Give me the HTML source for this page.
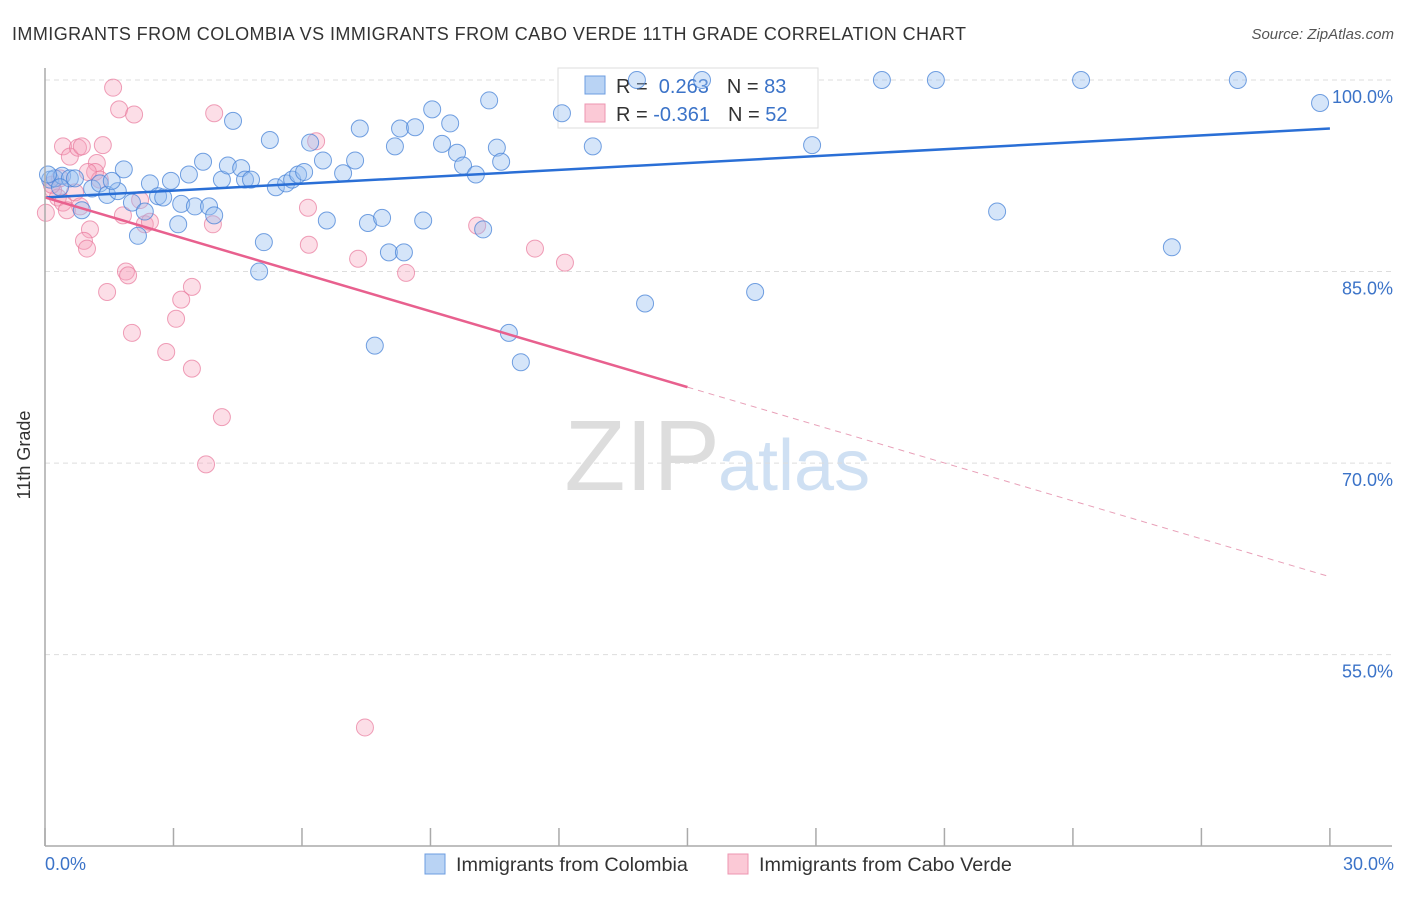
<!DOCTYPE html>
<html><head><meta charset="utf-8"><style>
body{margin:0;background:#fff;font-family:"Liberation Sans",sans-serif}
svg text{font-family:"Liberation Sans",sans-serif}
</style></head><body>
<svg id="c" width="1406" height="892" xmlns="http://www.w3.org/2000/svg">
<text x="12" y="40" font-size="18" fill="#333" textLength="954">IMMIGRANTS FROM COLOMBIA VS IMMIGRANTS FROM CABO VERDE 11TH GRADE CORRELATION CHART</text>
<text x="1394" y="39" font-size="15" fill="#555" text-anchor="end" font-style="italic">Source: ZipAtlas.com</text>
<text x="720" y="490" font-size="100" fill="#ddd" text-anchor="end" font-family="Liberation Serif">ZIP</text>
<text x="718" y="490" font-size="72" fill="#cfe0f3">atlas</text>
<g id="grid"></g>
<g>
<rect x="558" y="68" width="260" height="60" fill="#fff" stroke="#ddd"/>
<rect x="585" y="76" width="20" height="18" fill="#b9d3f4" stroke="#6c9de0"/>
<rect x="585" y="104" width="20" height="18" fill="#fbc9d6" stroke="#ee95b0"/>
<text x="616" y="93" font-size="20" fill="#333">R = <tspan fill="#3b73c8">&#160;0.263</tspan><tspan dx="18">N = </tspan><tspan fill="#3b73c8">83</tspan></text>
<text x="616" y="121" font-size="20" fill="#333">R = <tspan fill="#3b73c8">-0.361</tspan><tspan dx="18">N = </tspan><tspan fill="#3b73c8">52</tspan></text>
</g>
<g id="pts"></g><g id="lines"></g>
<line x1="45" y1="68" x2="45" y2="846" stroke="#aaa" stroke-width="1.5"/>
<line x1="45" y1="846" x2="1392" y2="846" stroke="#aaa" stroke-width="1.5"/>
<text x="30" y="455" font-size="18" fill="#333" text-anchor="middle" transform="rotate(-90 30 455)">11th Grade</text>
<text x="45" y="870" font-size="18" fill="#3b73c8">0.0%</text>
<text x="1394" y="870" font-size="18" fill="#3b73c8" text-anchor="end">30.0%</text>
<g>
<rect x="425" y="854" width="20" height="20" fill="#b9d3f4" stroke="#6c9de0"/>
<text x="456" y="871" font-size="19.8" fill="#333">Immigrants from Colombia</text>
<rect x="728" y="854" width="20" height="20" fill="#fbc9d6" stroke="#ee95b0"/>
<text x="759" y="871" font-size="19.8" fill="#333">Immigrants from Cabo Verde</text>
</g>
</svg>
<script>
const yTicks=[100,85,70,55];
const yTickLabels=["100.0%","85.0%","70.0%","55.0%"];
const xTicks=[0,3,6,9,12,15,18,21,24,27,30];
const colX=[0.12,0.23,0.40,0.58,0.70,0.35,1.10,1.28,1.45,1.70,0.86,1.84,1.56,2.03,2.17,2.33,2.45,2.64,2.76,2.94,3.11,3.18,3.36,3.50,3.69,3.83,3.95,4.13,4.27,4.39,4.58,4.67,4.81,5.00,5.11,5.25,5.39,5.63,5.77,5.91,6.05,6.19,6.49,6.58,6.96,7.24,7.35,7.54,7.70,7.87,8.03,8.17,8.29,8.38,8.64,8.83,9.04,9.27,9.46,9.62,9.76,10.06,10.23,10.37,10.55,10.65,10.83,11.11,12.07,12.79,13.82,14.01,15.34,16.58,17.91,19.54,20.80,22.23,24.19,26.31,27.85,29.77,0.07];
const colY=[92.2,92.3,92.5,92.3,92.3,91.6,91.5,91.9,91.0,91.3,89.8,93.0,92.1,90.4,87.8,89.7,91.9,90.9,90.8,92.1,88.7,90.3,92.6,90.1,93.6,90.1,89.4,92.2,93.3,96.8,93.1,92.2,92.2,85.0,87.3,95.3,91.6,91.9,92.2,92.6,92.8,95.1,93.7,89.0,92.7,93.7,96.2,88.8,79.2,89.2,86.5,94.8,96.2,86.5,96.3,89.0,97.7,95.0,96.6,94.3,93.3,92.6,88.3,98.4,94.7,93.6,80.2,77.9,97.4,94.8,100,82.5,100,83.4,94.9,100,100,89.7,100,86.9,100,98.2,92.6];
const cvX=[1.59,1.73,2.08,3.95,0.42,0.58,0.77,0.86,1.21,1.35,1.17,0.19,0.30,0.42,0.51,0.02,0.70,0.82,1.05,0.91,0.98,1.82,1.89,1.94,1.45,2.03,2.22,2.33,2.45,2.83,3.06,3.18,3.43,3.43,3.92,4.13,3.76,6.14,6.16,6.33,7.31,8.43,10.09,11.44,12.14,7.47,1.28,0.16,0.35,1.00];
const cvY=[99.4,97.7,97.3,97.4,94.8,94.0,94.7,94.8,93.5,94.9,92.8,91.4,90.8,90.4,89.8,89.6,91.2,90.1,88.3,87.4,86.8,89.4,85.0,84.7,83.4,80.2,90.6,88.7,88.9,78.7,81.3,82.8,83.8,77.4,88.7,73.6,69.9,90.0,87.1,95.2,86.0,84.9,88.6,86.8,85.7,49.3,92.2,91.8,92.3,92.8];
const colTrend=[90.8,96.2];
const cvTrend=[90.8,61.1];
const xs=v=>45+v*42.83, ys=v=>80+(100-v)*12.77;
const NS="http://www.w3.org/2000/svg";
function mk(t,a,p){const e=document.createElementNS(NS,t);for(const k in a)e.setAttribute(k,a[k]);p.appendChild(e);return e;}
const g=document.getElementById('grid');
yTicks.forEach((v,i)=>{
 const l=mk('line',{x1:45,x2:1392,y1:ys(v),y2:ys(v),stroke:'#ddd','stroke-dasharray':'5,4'},g);
 
 
 const t=mk('text',{x:1393,y:ys(v)+23,'font-size':18,fill:'#3b73c8','text-anchor':'end'},g);
 t.textContent=yTickLabels[i];
 
 
});
xTicks.forEach(v=>{
 const l=mk('line',{x1:xs(v),x2:xs(v),y1:828,y2:846,stroke:'#aaa','stroke-width':1.5},g);
 
 
});
const p=document.getElementById('pts');
cvX.forEach((x,i)=>{
 const c=mk('circle',{cx:xs(x),cy:ys(cvY[i]),r:8.5,fill:'rgba(245,160,185,0.35)',stroke:'rgba(232,120,155,0.7)','stroke-width':1},p);
 
 
});
colX.forEach((x,i)=>{
 const c=mk('circle',{cx:xs(x),cy:ys(colY[i]),r:8.5,fill:'rgba(150,190,240,0.4)',stroke:'rgba(70,130,215,0.75)','stroke-width':1},p);
 
 
});
const L=document.getElementById('lines');
const b=mk('line',{x1:xs(0),y1:ys(colTrend[0]),x2:xs(30),y2:ys(colTrend[1]),stroke:'#2a6fd6','stroke-width':2.5},L);


const mid=cvTrend[0]+(cvTrend[1]-cvTrend[0])*0.5;
const r1=mk('line',{x1:xs(0),y1:ys(cvTrend[0]),x2:xs(15),y2:ys(mid),stroke:'#e8608e','stroke-width':2.5},L);


const r2=mk('line',{x1:xs(15),y1:ys(mid),x2:xs(30),y2:ys(cvTrend[1]),stroke:'#e8a0b8','stroke-width':1,'stroke-dasharray':'6,5'},L);


</script>
</body></html>
